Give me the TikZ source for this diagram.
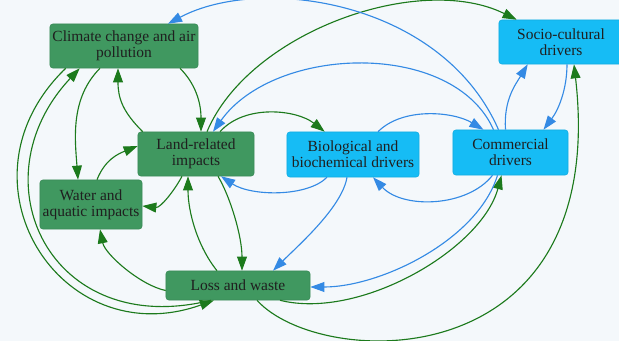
\documentclass[tikz,border=0pt]{standalone}
\usepackage{fontspec}
\setmainfont{Liberation Serif}
\usepackage{tikz}
\usetikzlibrary{arrows.meta, positioning, calc}
\usepackage{xcolor}
\definecolor{pagebg}{RGB}{244, 248, 251}
\definecolor{impactgreen}{RGB}{64, 152, 96}
\definecolor{driverblue}{RGB}{22, 188, 245}
\definecolor{linkgreen}{RGB}{28, 122, 28}
\definecolor{linkblue}{RGB}{52, 138, 228}

\begin{document}
\begin{tikzpicture}[
  x=0.025cm, y=-0.025cm,
  nbox/.style={rectangle, rounded corners=2pt, draw=#1!92!black, fill=#1,
               align=center, text=black!88, inner sep=1pt,
               font=\rmfamily\fontsize{11}{11.5}\selectfont},
  garr/.style={-{Triangle[length=10pt, width=7pt]}, line width=0.8pt, linkgreen},
  barr/.style={-{Triangle[length=10pt, width=7pt]}, line width=0.8pt, linkblue}
]
\fill[pagebg] (0,0) rectangle (619,341);
\useasboundingbox (0,0) rectangle (619,341);

% impacts
\node[nbox=impactgreen, minimum width=3.7cm, minimum height=1.1cm]    (cc)   at (124,46)    {Climate change and air\\pollution};
\node[nbox=impactgreen, minimum width=2.9cm, minimum height=1.1cm]    (land) at (196,154)   {Land-related\\impacts};
\node[nbox=impactgreen, minimum width=2.55cm, minimum height=1.225cm] (wat)  at (91,204.5)  {Water and\\aquatic impacts};
\node[nbox=impactgreen, minimum width=3.6cm, minimum height=0.725cm]  (loss) at (238,285.5) {Loss and waste};

% drivers
\node[nbox=driverblue, minimum width=3.1cm, minimum height=1.1cm]     (soc)  at (561,42)    {Socio-cultural\\drivers};
\node[nbox=driverblue, minimum width=3.3cm, minimum height=1.125cm]   (bio)  at (353,154.5) {Biological and\\biochemical drivers};
\node[nbox=driverblue, minimum width=2.875cm, minimum height=1.125cm] (com)  at (510.5,152.5) {Commercial\\drivers};

% green links
\draw[garr] ($(cc.south)+(56,0)$) .. controls +(15,15) and +(0,-30) .. ($(land.north)+(5,0)$);
\draw[garr] ($(land.north west)+(5,0)$) .. controls +(-20,-20) and +(0,30) .. ($(cc.south)+(-6,0)$);
\draw[garr] ($(cc.south)+(-24,0)$) .. controls +(-30,30) and +(-3,-40) .. ($(wat.north)+(-13,0)$);
\draw[garr] ($(wat.north)+(6,0)$) .. controls +(8,-20) and +(-20,8) .. ($(land.west)+(0,-8)$);
\draw[garr] ($(land.south)+(-14,0)$) .. controls +(-8,15) and +(18,2) .. ($(wat.east)+(0,1.5)$);
\draw[garr] ($(land.north)+(24,0)$) .. controls +(25,-28) and +(-28,-22) .. ($(bio.north west)+(38,0)$);
\draw[garr] ($(land.north)+(11,0)$) .. controls +(42,-100) and +(-97,-48) .. ($(soc.north west)+(18,0)$);
\draw[garr] ($(land.south)+(22,0)$) .. controls +(12,20) and +(0,-35) .. ($(loss.north)+(4,0)$);
\draw[garr] ($(loss.north)+(-21,0)$) .. controls +(-20,-25) and +(0,35) .. ($(land.south)+(-8,0)$);
\draw[garr] ($(loss.west)+(0,5)$) .. controls +(-25,-5) and +(5,25) .. ($(wat.south)+(9,0)$);
\draw[garr] ($(cc.south west)+(16,0)$) .. controls +(-116,112) and +(-154,55) .. ($(loss.south)+(-24,0)$);
\draw[garr] ($(loss.south)+(-27,0)$) .. controls +(-161,40) and +(-105,112) .. ($(cc.south west)+(30,0)$);
\draw[garr] ($(loss.south)+(42,0)$) .. controls +(80,20) and +(-20,74) .. ($(com.south)+(-9,0)$);
\draw[garr] ($(loss.south)+(19,0)$) .. controls +(63,70) and +(36,316) .. ($(soc.south)+(13,0)$);

% blue links
\draw[barr] ($(com.north)+(-12,0)$) .. controls +(-57,-130) and +(92,-49) .. ($(cc.north)+(44,0)$);
\draw[barr] ($(com.north)+(-17,0)$) .. controls +(-40,-90) and +(62,-87) .. ($(land.north)+(17,0)$);
\draw[barr] ($(bio.north)+(25,0)$) .. controls +(25,-25) and +(-30,-18) .. ($(com.north)+(-27,0)$);
\draw[barr] ($(com.north)+(-5,0)$) .. controls +(-2,-30) and +(-12,20) .. ($(soc.south west)+(29,0)$);
\draw[barr] ($(soc.south)+(6,0)$) .. controls +(0,25) and +(15,-20) .. ($(com.north)+(33,0)$);
\draw[barr] ($(com.south)+(-18,0)$) .. controls +(-25,32) and +(30,32) .. ($(bio.south)+(20,0)$);
\draw[barr] ($(bio.south)+(-26,0)$) .. controls +(-20,20) and +(30,20) .. ($(land.south)+(25,0)$);
\draw[barr] ($(bio.south)+(-6,0)$) .. controls +(-5,30) and +(25,-25) .. ($(loss.north)+(35,0)$);
\draw[barr] ($(com.south)+(-13,0)$) .. controls +(-20,65) and +(70,0) .. ($(loss.east)+(0,1.5)$);
\end{tikzpicture}
\end{document}
